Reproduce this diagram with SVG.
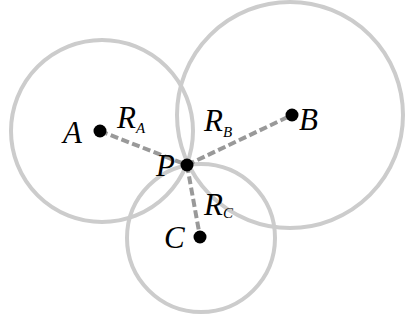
<svg xmlns="http://www.w3.org/2000/svg" width="407" height="321" viewBox="0 0 407 321">
<style>
.circ{fill:none;stroke:#cccccc;stroke-width:4}
.dash{stroke:#999999;stroke-width:4;stroke-dasharray:8 3.5;fill:none}
.dot{fill:#000}
.lbl{font-family:"Liberation Serif","Times New Roman",serif;font-style:italic;font-size:31px;fill:#000}
.sub{font-size:15px}
</style>
<rect width="407" height="321" fill="#fff"/>
<g id="circles">
<circle class="circ" cx="102" cy="131" r="91"/>
<circle class="circ" cx="290" cy="115" r="113"/>
<circle class="circ" cx="201" cy="238" r="74"/>
</g>
<g id="connectors">
<line class="dash" x1="100" y1="131" x2="187" y2="165"/>
<line class="dash" x1="187" y1="165" x2="292" y2="115"/>
<line class="dash" x1="187" y1="165" x2="200" y2="237"/>
</g>
<g id="nodeA"><circle class="dot" cx="100" cy="131" r="6.5"/><text class="lbl" x="63" y="143">A</text></g>
<g id="nodeB"><circle class="dot" cx="292" cy="115" r="6.5"/><text class="lbl" x="299" y="130">B</text></g>
<g id="nodeC"><circle class="dot" cx="200" cy="237" r="6.5"/><text class="lbl" x="164" y="248">C</text></g>
<g id="nodeP"><circle class="dot" cx="187" cy="165" r="6.5"/><text class="lbl" x="156" y="176">P</text></g>
<g id="labelRA"><text class="lbl" x="117" y="128">R<tspan class="sub" dy="5">A</tspan></text></g>
<g id="labelRB"><text class="lbl" x="204" y="131">R<tspan class="sub" dy="6">B</tspan></text></g>
<g id="labelRC"><text class="lbl" x="204" y="215">R<tspan class="sub" dy="3">C</tspan></text></g>
</svg>
